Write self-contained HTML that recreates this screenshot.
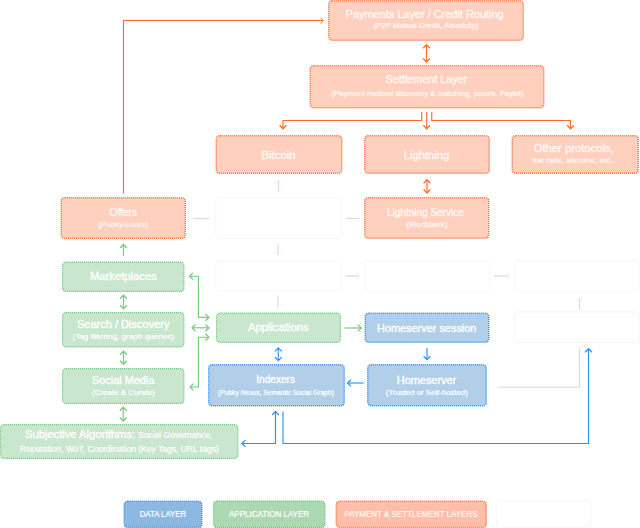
<!DOCTYPE html>
<html lang="en"><head><meta charset="utf-8"><title>Architecture layers</title>
<style>
html,body{margin:0;padding:0;background:#fff;}
body{width:640px;height:528px;overflow:hidden;}
svg{display:block;font-family:'Liberation Sans', sans-serif;}
</style></head>
<body>
<svg width="640" height="528" viewBox="0 0 640 528">
<rect x="0" y="0" width="640" height="528" fill="#ffffff"/>
<rect x="328.75" y="0.75" width="194.50" height="39.50" rx="3.5" fill="#ffd0be" stroke="#ff6a33" stroke-width="1.5" stroke-dasharray="1 1"/>
<rect x="310.25" y="65.75" width="233.50" height="42.00" rx="3.5" fill="#ffd0be" stroke="#ff6a33" stroke-width="1.5" stroke-dasharray="1 1"/>
<rect x="216.25" y="135.75" width="125.50" height="37.50" rx="3.5" fill="#ffd0be" stroke="#ff6a33" stroke-width="1.5" stroke-dasharray="1 1"/>
<rect x="364.75" y="135.75" width="124.50" height="37.50" rx="3.5" fill="#ffd0be" stroke="#ff6a33" stroke-width="1.5" stroke-dasharray="1 1"/>
<rect x="512.25" y="135.75" width="126.00" height="37.50" rx="3.5" fill="#ffd0be" stroke="#ff6a33" stroke-width="1.5" stroke-dasharray="1 1"/>
<rect x="61.25" y="197.75" width="124.00" height="40.50" rx="3.5" fill="#ffd0be" stroke="#ff6a33" stroke-width="1.5" stroke-dasharray="1 1"/>
<rect x="364.75" y="197.75" width="124.00" height="40.50" rx="3.5" fill="#ffd0be" stroke="#ff6a33" stroke-width="1.5" stroke-dasharray="1 1"/>
<rect x="62.60" y="262.10" width="121.30" height="29.30" rx="3.5" fill="#c9e6cf" stroke="#64c46c" stroke-width="1.2" stroke-dasharray="1 1"/>
<rect x="62.60" y="312.60" width="121.30" height="34.30" rx="3.5" fill="#c9e6cf" stroke="#64c46c" stroke-width="1.2" stroke-dasharray="1 1"/>
<rect x="62.60" y="368.60" width="121.30" height="34.80" rx="3.5" fill="#c9e6cf" stroke="#64c46c" stroke-width="1.2" stroke-dasharray="1 1"/>
<rect x="0.60" y="424.60" width="237.30" height="33.80" rx="3.5" fill="#c9e6cf" stroke="#64c46c" stroke-width="1.2" stroke-dasharray="1 1"/>
<rect x="216.60" y="313.10" width="123.80" height="29.30" rx="3.5" fill="#c9e6cf" stroke="#64c46c" stroke-width="1.2" stroke-dasharray="1 1"/>
<rect x="365.25" y="313.25" width="123.50" height="29.00" rx="3.5" fill="#b2cfea" stroke="#2e8be6" stroke-width="1.5" stroke-dasharray="1 1"/>
<rect x="208.75" y="364.75" width="135.50" height="41.00" rx="3.5" fill="#b2cfea" stroke="#2e8be6" stroke-width="1.5" stroke-dasharray="1 1"/>
<rect x="367.75" y="364.75" width="118.50" height="41.00" rx="3.5" fill="#b2cfea" stroke="#2e8be6" stroke-width="1.5" stroke-dasharray="1 1"/>
<rect x="215.90" y="197.40" width="125.20" height="41.20" rx="3.5" fill="#ffffff" stroke="#e6e6e6" stroke-width="0.8" stroke-dasharray="1 1"/>
<rect x="215.90" y="260.40" width="125.20" height="30.70" rx="3.5" fill="#ffffff" stroke="#e6e6e6" stroke-width="0.8" stroke-dasharray="1 1"/>
<rect x="364.40" y="260.40" width="125.20" height="31.20" rx="3.5" fill="#ffffff" stroke="#e6e6e6" stroke-width="0.8" stroke-dasharray="1 1"/>
<rect x="514.40" y="260.40" width="124.70" height="31.20" rx="3.5" fill="#ffffff" stroke="#e6e6e6" stroke-width="0.8" stroke-dasharray="1 1"/>
<rect x="514.40" y="311.90" width="124.70" height="30.70" rx="3.5" fill="#ffffff" stroke="#e6e6e6" stroke-width="0.8" stroke-dasharray="1 1"/>
<rect x="496.40" y="500.40" width="94.70" height="27.50" rx="3.5" fill="#ffffff" stroke="#e6e6e6" stroke-width="0.8" stroke-dasharray="1 1"/>
<rect x="124.25" y="501.25" width="77.50" height="26.30" rx="3.5" fill="#8cb8e2" stroke="#2e8be6" stroke-width="1.5" stroke-dasharray="1 1"/>
<rect x="213.60" y="501.10" width="111.30" height="26.60" rx="3.5" fill="#acd8b4" stroke="#64c46c" stroke-width="1.2" stroke-dasharray="1 1"/>
<rect x="336.25" y="501.25" width="150.00" height="26.30" rx="3.5" fill="#ffbeaa" stroke="#ff6a33" stroke-width="1.5" stroke-dasharray="1 1"/>
<path d="M123.50 193.50 L123.50 20.50 L323.00 20.50" fill="none" stroke="#ff6a2e" stroke-width="1.15" stroke-linejoin="miter"/>
<path d="M320.20 17.50 L323.20 20.50 L320.20 23.50" fill="none" stroke="#ff6a2e" stroke-width="1" stroke-linejoin="miter"/>
<path d="M426.50 45.00 L426.50 62.00" fill="none" stroke="#ff6a2e" stroke-width="1.15" stroke-linejoin="miter"/>
<path d="M423.10 48.20 L426.50 44.70 L429.90 48.20" fill="none" stroke="#ff6a2e" stroke-width="1.25" stroke-linejoin="miter"/>
<path d="M423.10 58.50 L426.50 62.00 L429.90 58.50" fill="none" stroke="#ff6a2e" stroke-width="1.25" stroke-linejoin="miter"/>
<path d="M426.75 112.00 L426.75 128.50" fill="none" stroke="#ff6a2e" stroke-width="1.15" stroke-linejoin="miter"/>
<path d="M423.35 125.25 L426.75 128.75 L430.15 125.25" fill="none" stroke="#ff6a2e" stroke-width="1.25" stroke-linejoin="miter"/>
<path d="M421.75 112.00 L421.75 120.50 L283.00 120.50 L283.00 128.50" fill="none" stroke="#ff6a2e" stroke-width="1.15" stroke-linejoin="miter"/>
<path d="M279.60 125.25 L283.00 128.75 L286.40 125.25" fill="none" stroke="#ff6a2e" stroke-width="1.25" stroke-linejoin="miter"/>
<path d="M431.75 112.00 L431.75 120.50 L570.50 120.50 L570.50 128.50" fill="none" stroke="#ff6a2e" stroke-width="1.15" stroke-linejoin="miter"/>
<path d="M567.10 125.25 L570.50 128.75 L573.90 125.25" fill="none" stroke="#ff6a2e" stroke-width="1.25" stroke-linejoin="miter"/>
<path d="M427.00 180.00 L427.00 193.00" fill="none" stroke="#ff6a2e" stroke-width="1.15" stroke-linejoin="miter"/>
<path d="M423.60 183.20 L427.00 179.70 L430.40 183.20" fill="none" stroke="#ff6a2e" stroke-width="1.25" stroke-linejoin="miter"/>
<path d="M423.60 189.50 L427.00 193.00 L430.40 189.50" fill="none" stroke="#ff6a2e" stroke-width="1.25" stroke-linejoin="miter"/>
<path d="M278.50 180.00 L278.50 192.00" fill="none" stroke="#d9d9d9" stroke-width="1.15" stroke-linejoin="miter"/>
<path d="M275.10 183.50 L278.50 180.00 L281.90 183.50" fill="none" stroke="#f6f6f6" stroke-width="1.25" stroke-linejoin="miter"/>
<path d="M275.10 188.50 L278.50 192.00 L281.90 188.50" fill="none" stroke="#f6f6f6" stroke-width="1.25" stroke-linejoin="miter"/>
<path d="M193.00 218.50 L209.00 218.50" fill="none" stroke="#d9d9d9" stroke-width="1.15" stroke-linejoin="miter"/>
<path d="M346.00 218.50 L360.00 218.50" fill="none" stroke="#d9d9d9" stroke-width="1.15" stroke-linejoin="miter"/>
<path d="M349.50 215.10 L346.00 218.50 L349.50 221.90" fill="none" stroke="#f6f6f6" stroke-width="1.25" stroke-linejoin="miter"/>
<path d="M356.50 215.10 L360.00 218.50 L356.50 221.90" fill="none" stroke="#f6f6f6" stroke-width="1.25" stroke-linejoin="miter"/>
<path d="M278.00 244.50 L278.00 255.50" fill="none" stroke="#d9d9d9" stroke-width="1.15" stroke-linejoin="miter"/>
<path d="M274.60 252.00 L278.00 255.50 L281.40 252.00" fill="none" stroke="#f6f6f6" stroke-width="1.25" stroke-linejoin="miter"/>
<path d="M278.00 295.50 L278.00 308.00" fill="none" stroke="#d9d9d9" stroke-width="1.15" stroke-linejoin="miter"/>
<path d="M274.60 304.50 L278.00 308.00 L281.40 304.50" fill="none" stroke="#f6f6f6" stroke-width="1.25" stroke-linejoin="miter"/>
<path d="M345.00 276.00 L360.00 276.00" fill="none" stroke="#d9d9d9" stroke-width="1.15" stroke-linejoin="miter"/>
<path d="M356.50 272.60 L360.00 276.00 L356.50 279.40" fill="none" stroke="#f6f6f6" stroke-width="1.25" stroke-linejoin="miter"/>
<path d="M494.00 276.00 L510.00 276.00" fill="none" stroke="#d9d9d9" stroke-width="1.15" stroke-linejoin="miter"/>
<path d="M506.50 272.60 L510.00 276.00 L506.50 279.40" fill="none" stroke="#f6f6f6" stroke-width="1.25" stroke-linejoin="miter"/>
<path d="M579.50 297.50 L579.50 309.50" fill="none" stroke="#d9d9d9" stroke-width="1.15" stroke-linejoin="miter"/>
<path d="M576.10 301.00 L579.50 297.50 L582.90 301.00" fill="none" stroke="#f6f6f6" stroke-width="1.25" stroke-linejoin="miter"/>
<path d="M497.50 387.25 L579.50 387.25 L579.50 348.50" fill="none" stroke="#dadada" stroke-width="1.15" stroke-linejoin="miter"/>
<path d="M123.50 244.50 L123.50 256.00" fill="none" stroke="#74cc78" stroke-width="1.15" stroke-linejoin="miter"/>
<path d="M120.10 248.00 L123.50 244.50 L126.90 248.00" fill="none" stroke="#74cc78" stroke-width="1.25" stroke-linejoin="miter"/>
<path d="M123.50 295.50 L123.50 308.50" fill="none" stroke="#74cc78" stroke-width="1.15" stroke-linejoin="miter"/>
<path d="M120.10 298.70 L123.50 295.20 L126.90 298.70" fill="none" stroke="#74cc78" stroke-width="1.25" stroke-linejoin="miter"/>
<path d="M120.10 305.20 L123.50 308.70 L126.90 305.20" fill="none" stroke="#74cc78" stroke-width="1.25" stroke-linejoin="miter"/>
<path d="M123.50 351.50 L123.50 364.00" fill="none" stroke="#74cc78" stroke-width="1.15" stroke-linejoin="miter"/>
<path d="M120.10 354.70 L123.50 351.20 L126.90 354.70" fill="none" stroke="#74cc78" stroke-width="1.25" stroke-linejoin="miter"/>
<path d="M120.10 360.70 L123.50 364.20 L126.90 360.70" fill="none" stroke="#74cc78" stroke-width="1.25" stroke-linejoin="miter"/>
<path d="M123.20 407.50 L123.20 421.00" fill="none" stroke="#74cc78" stroke-width="1.15" stroke-linejoin="miter"/>
<path d="M119.80 410.70 L123.20 407.20 L126.60 410.70" fill="none" stroke="#74cc78" stroke-width="1.25" stroke-linejoin="miter"/>
<path d="M119.80 417.50 L123.20 421.00 L126.60 417.50" fill="none" stroke="#74cc78" stroke-width="1.25" stroke-linejoin="miter"/>
<path d="M189.50 276.25 L198.40 276.25 L198.40 317.40 L208.75 317.40" fill="none" stroke="#74cc78" stroke-width="1.15" stroke-linejoin="miter"/>
<path d="M193.00 272.85 L189.50 276.25 L193.00 279.65" fill="none" stroke="#74cc78" stroke-width="1.25" stroke-linejoin="miter"/>
<path d="M205.40 314.00 L208.90 317.40 L205.40 320.80" fill="none" stroke="#74cc78" stroke-width="1.25" stroke-linejoin="miter"/>
<path d="M192.00 327.80 L208.75 327.80" fill="none" stroke="#74cc78" stroke-width="1.15" stroke-linejoin="miter"/>
<path d="M195.50 324.40 L192.00 327.80 L195.50 331.20" fill="none" stroke="#74cc78" stroke-width="1.25" stroke-linejoin="miter"/>
<path d="M205.40 324.40 L208.90 327.80 L205.40 331.20" fill="none" stroke="#74cc78" stroke-width="1.25" stroke-linejoin="miter"/>
<path d="M208.75 337.20 L198.40 337.20 L198.40 387.00 L190.00 387.00" fill="none" stroke="#74cc78" stroke-width="1.15" stroke-linejoin="miter"/>
<path d="M205.40 333.80 L208.90 337.20 L205.40 340.60" fill="none" stroke="#74cc78" stroke-width="1.25" stroke-linejoin="miter"/>
<path d="M193.50 383.60 L190.00 387.00 L193.50 390.40" fill="none" stroke="#74cc78" stroke-width="1.25" stroke-linejoin="miter"/>
<path d="M344.50 328.00 L361.25 328.00" fill="none" stroke="#74cc78" stroke-width="1.15" stroke-linejoin="miter"/>
<path d="M357.75 324.60 L361.25 328.00 L357.75 331.40" fill="none" stroke="#74cc78" stroke-width="1.25" stroke-linejoin="miter"/>
<path d="M278.30 348.50 L278.30 360.00" fill="none" stroke="#2b93f0" stroke-width="1.15" stroke-linejoin="miter"/>
<path d="M274.90 351.40 L278.30 347.90 L281.70 351.40" fill="none" stroke="#2b93f0" stroke-width="1.25" stroke-linejoin="miter"/>
<path d="M274.90 357.10 L278.30 360.60 L281.70 357.10" fill="none" stroke="#2b93f0" stroke-width="1.25" stroke-linejoin="miter"/>
<path d="M427.00 348.00 L427.00 359.50" fill="none" stroke="#2b93f0" stroke-width="1.15" stroke-linejoin="miter"/>
<path d="M423.60 356.20 L427.00 359.70 L430.40 356.20" fill="none" stroke="#2b93f0" stroke-width="1.25" stroke-linejoin="miter"/>
<path d="M363.75 383.00 L347.50 383.00" fill="none" stroke="#2b93f0" stroke-width="1.15" stroke-linejoin="miter"/>
<path d="M351.00 379.60 L347.50 383.00 L351.00 386.40" fill="none" stroke="#2b93f0" stroke-width="1.25" stroke-linejoin="miter"/>
<path d="M275.50 411.50 L275.50 443.50 L242.00 443.50" fill="none" stroke="#2b93f0" stroke-width="1.15" stroke-linejoin="miter"/>
<path d="M272.10 415.00 L275.50 411.50 L278.90 415.00" fill="none" stroke="#2b93f0" stroke-width="1.25" stroke-linejoin="miter"/>
<path d="M245.50 440.10 L242.00 443.50 L245.50 446.90" fill="none" stroke="#2b93f0" stroke-width="1.25" stroke-linejoin="miter"/>
<path d="M283.00 411.50 L283.00 443.50 L588.50 443.50 L588.50 349.00" fill="none" stroke="#2b93f0" stroke-width="1.15" stroke-linejoin="miter"/>
<path d="M585.10 352.25 L588.50 348.75 L591.90 352.25" fill="none" stroke="#2b93f0" stroke-width="1.25" stroke-linejoin="miter"/>
<text x="345.60" y="17.50" font-size="10" font-weight="400" fill="#fff" stroke="#fff" stroke-width="0.35" textLength="158.00" lengthAdjust="spacingAndGlyphs" opacity="0.85">Payments Layer / Credit Routing</text>
<text x="373.75" y="28.00" font-size="7" font-weight="400" fill="#fff" stroke="#fff" stroke-width="0.22" textLength="104.65" lengthAdjust="spacingAndGlyphs" opacity="0.85">(P2P Mutual Credit, Atomicity)</text>
<text x="385.50" y="83.00" font-size="10" font-weight="400" fill="#fff" stroke="#fff" stroke-width="0.35" textLength="81.70" lengthAdjust="spacingAndGlyphs" opacity="0.85">Settlement Layer</text>
<text x="331.50" y="95.50" font-size="7" font-weight="400" fill="#fff" stroke="#fff" stroke-width="0.22" textLength="192.00" lengthAdjust="spacingAndGlyphs" opacity="0.85">(Payment method discovery &amp; matching, proofs, Paykit)</text>
<text x="261.25" y="158.75" font-size="10" font-weight="400" fill="#fff" stroke="#fff" stroke-width="0.35" textLength="34.50" lengthAdjust="spacingAndGlyphs" opacity="0.85">Bitcoin</text>
<text x="403.75" y="158.75" font-size="10" font-weight="400" fill="#fff" stroke="#fff" stroke-width="0.35" textLength="45.50" lengthAdjust="spacingAndGlyphs" opacity="0.85">Lightning</text>
<text x="533.75" y="152.00" font-size="10" font-weight="400" fill="#fff" stroke="#fff" stroke-width="0.35" textLength="80.00" lengthAdjust="spacingAndGlyphs" opacity="0.85">Other protocols,</text>
<text x="532.50" y="163.00" font-size="8" font-weight="400" fill="#fff" stroke="#fff" stroke-width="0.22" textLength="85.00" lengthAdjust="spacingAndGlyphs" opacity="0.85">fiat rails, altcoins, etc...</text>
<text x="109.50" y="215.50" font-size="10" font-weight="400" fill="#fff" stroke="#fff" stroke-width="0.35" textLength="27.50" lengthAdjust="spacingAndGlyphs" opacity="0.85">Offers</text>
<text x="98.25" y="227.00" font-size="7" font-weight="400" fill="#fff" stroke="#fff" stroke-width="0.22" textLength="50.00" lengthAdjust="spacingAndGlyphs" opacity="0.85">(Pubky-Locks)</text>
<text x="387.00" y="216.25" font-size="10" font-weight="400" fill="#fff" stroke="#fff" stroke-width="0.35" textLength="76.75" lengthAdjust="spacingAndGlyphs" opacity="0.85">Lightning Service</text>
<text x="406.25" y="227.00" font-size="7" font-weight="400" fill="#fff" stroke="#fff" stroke-width="0.22" textLength="41.25" lengthAdjust="spacingAndGlyphs" opacity="0.85">(Blocktank)</text>
<text x="90.00" y="280.00" font-size="10" font-weight="400" fill="#fff" stroke="#fff" stroke-width="0.35" textLength="66.75" lengthAdjust="spacingAndGlyphs" opacity="1">Marketplaces</text>
<text x="77.00" y="328.00" font-size="10" font-weight="400" fill="#fff" stroke="#fff" stroke-width="0.35" textLength="92.50" lengthAdjust="spacingAndGlyphs" opacity="1">Search / Discovery</text>
<text x="72.50" y="338.75" font-size="7" font-weight="400" fill="#fff" stroke="#fff" stroke-width="0.22" textLength="101.75" lengthAdjust="spacingAndGlyphs" opacity="1">(Tag filtering, graph queries)</text>
<text x="92.00" y="383.75" font-size="10" font-weight="400" fill="#fff" stroke="#fff" stroke-width="0.35" textLength="62.25" lengthAdjust="spacingAndGlyphs" opacity="1">Social Media</text>
<text x="92.00" y="395.00" font-size="7" font-weight="400" fill="#fff" stroke="#fff" stroke-width="0.22" textLength="63.00" lengthAdjust="spacingAndGlyphs" opacity="1">(Create &amp; Curate)</text>
<text x="25.00" y="438.00" font-size="10.5" font-weight="400" fill="#fff" stroke="#fff" stroke-width="0.35" textLength="110.00" lengthAdjust="spacingAndGlyphs" opacity="1">Subjective Algorithms:</text>
<text x="138.00" y="438.00" font-size="8.5" font-weight="400" fill="#fff" stroke="#fff" stroke-width="0.22" textLength="74.50" lengthAdjust="spacingAndGlyphs" opacity="1">Social Governance,</text>
<text x="20.00" y="451.50" font-size="8.5" font-weight="400" fill="#fff" stroke="#fff" stroke-width="0.22" textLength="198.75" lengthAdjust="spacingAndGlyphs" opacity="1">Reputation, WoT, Coordination (Key Tags, URL tags)</text>
<text x="248.00" y="331.25" font-size="10" font-weight="400" fill="#fff" stroke="#fff" stroke-width="0.35" textLength="60.75" lengthAdjust="spacingAndGlyphs" opacity="1">Applications</text>
<text x="377.00" y="331.60" font-size="10.5" font-weight="400" fill="#fff" stroke="#fff" stroke-width="0.35" textLength="99.40" lengthAdjust="spacingAndGlyphs" opacity="1">Homeserver session</text>
<text x="256.25" y="383.00" font-size="10.5" font-weight="400" fill="#fff" stroke="#fff" stroke-width="0.35" textLength="38.75" lengthAdjust="spacingAndGlyphs" opacity="1">Indexers</text>
<text x="218.00" y="394.50" font-size="7" font-weight="400" fill="#fff" stroke="#fff" stroke-width="0.22" textLength="115.75" lengthAdjust="spacingAndGlyphs" opacity="1">(Pubky Nexus, Semantic Social Graph)</text>
<text x="396.75" y="383.70" font-size="10.5" font-weight="400" fill="#fff" stroke="#fff" stroke-width="0.35" textLength="59.50" lengthAdjust="spacingAndGlyphs" opacity="1">Homeserver</text>
<text x="385.80" y="394.60" font-size="7" font-weight="400" fill="#fff" stroke="#fff" stroke-width="0.22" textLength="82.00" lengthAdjust="spacingAndGlyphs" opacity="1">(Trusted or Self-hosted)</text>
<text x="139.75" y="517.40" font-size="8.5" font-weight="400" fill="#fff" stroke="#fff" stroke-width="0.22" textLength="46.25" lengthAdjust="spacingAndGlyphs" opacity="1">DATA LAYER</text>
<text x="229.00" y="517.40" font-size="8.5" font-weight="400" fill="#fff" stroke="#fff" stroke-width="0.22" textLength="80.00" lengthAdjust="spacingAndGlyphs" opacity="1">APPLICATION LAYER</text>
<text x="344.50" y="517.40" font-size="8.5" font-weight="400" fill="#fff" stroke="#fff" stroke-width="0.22" textLength="133.00" lengthAdjust="spacingAndGlyphs" opacity="0.85">PAYMENT &amp; SETTLEMENT LAYERS</text>
</svg>
</body></html>
